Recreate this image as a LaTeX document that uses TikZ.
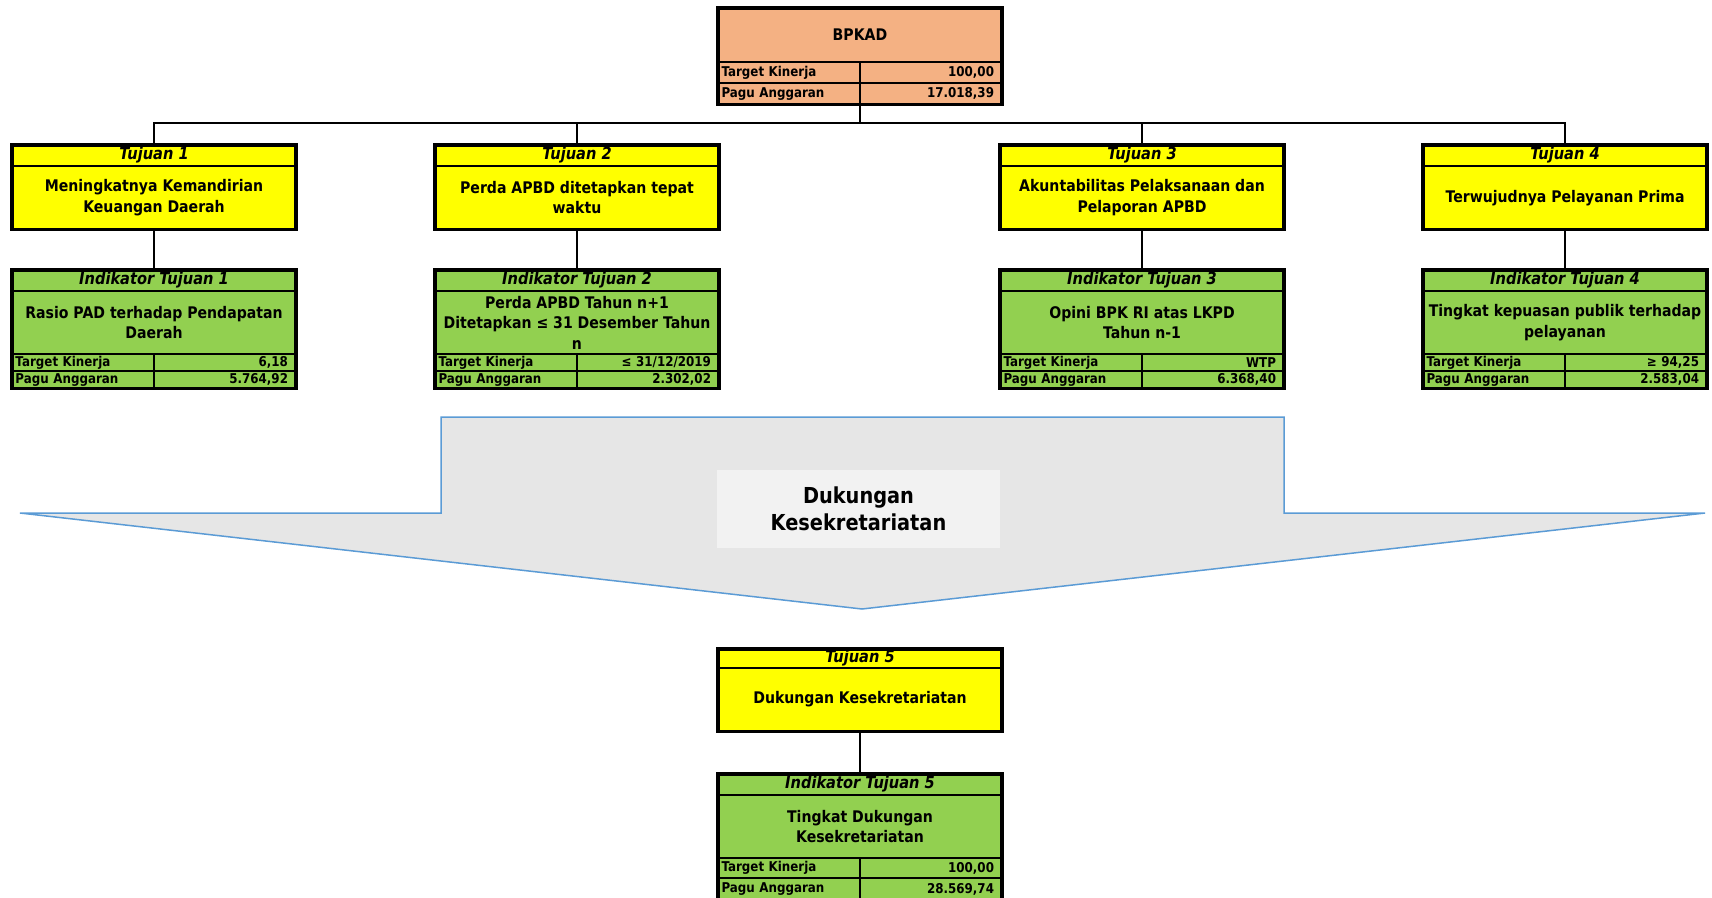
\documentclass[tikz,border=0pt]{standalone}
\usepackage{fontspec}
\setmainfont{DejaVu Sans}[FakeStretch=0.88]
\definecolor{peach}{HTML}{F4B183}
\definecolor{ylw}{HTML}{FFFF00}
\definecolor{grn}{HTML}{92D050}
\definecolor{arrfill}{HTML}{E6E6E6}
\definecolor{arrline}{HTML}{5B9BD5}
\definecolor{lblfill}{HTML}{F2F2F2}
\tikzset{
  cell/.style={draw, line width=2pt, inner sep=0pt, outer sep=0pt, minimum width=284pt, align=center},
  cellT/.style={cell, font=\fontsize{16.6}{18}\selectfont\bfseries\itshape},
  cellB/.style={cell, font=\fontsize{16}{20.5}\selectfont\bfseries},
  rowL/.style={draw, line width=2pt, outer sep=0pt, inner ysep=0pt, inner xsep=3.5pt, text width=135pt, align=left, font=\fontsize{13.5}{14}\selectfont\bfseries},
  rowR/.style={draw, line width=2pt, outer sep=0pt, inner ysep=0pt, inner xsep=8pt, text width=126pt, align=right, font=\fontsize{13.5}{14}\selectfont\bfseries},
  frame/.style={draw, line width=3.5pt},
  conn/.style={draw, line width=2.2pt},
  bigarrow/.style={draw=arrline, fill=arrfill, line width=1.5pt, line join=miter},
  lblbox/.style={fill=lblfill, minimum width=283pt, minimum height=78pt, inner sep=0pt, align=center, font=\fontsize{22}{27}\selectfont\bfseries}
}
% #1 prefix, #2 node above, #3 fill, #4 h1, #5 h2, #6 v1, #7 v2
\newcommand\datarows[7]{%
  \node[rowL, fill=#3, minimum height=#4, anchor=north west] (#1a) at (#2.south west) {Target Kinerja};
  \node[rowR, fill=#3, minimum height=#4, anchor=north east] (#1b) at (#2.south east) {#6};
  \node[rowL, fill=#3, minimum height=#5, anchor=north west] (#1c) at (#1a.south west) {Pagu Anggaran};
  \node[rowR, fill=#3, minimum height=#5, anchor=north east] (#1d) at (#1b.south east) {#7};
}
% #1 name, #2 cx, #3 top, #4 title h, #5 body h, #6 title, #7 body
\newcommand\tujuanbox[7]{%
  \node[cellT, fill=ylw, minimum height=#4, anchor=north] (#1t) at (#2,#3) {#6};
  \node[cellB, fill=ylw, minimum height=#5, anchor=north] (#1) at (#1t.south) {#7};
  \draw[frame] (#1t.north west) rectangle (#1.south east);
}
% #1 name, #2 cx, #3 top, #4 title, #5 body, #6 v1, #7 v2, #8 h1, #9 h2
\newcommand\indikbox[9]{%
  \node[cellT, fill=grn, minimum height=21.25pt, anchor=north] (#1t) at (#2,#3) {#4};
  \node[cellB, fill=grn, minimum height=63pt, anchor=north] (#1) at (#1t.south) {#5};
  \datarows{#1r}{#1}{grn}{#8}{#9}{#6}{#7}
  \draw[frame] (#1t.north west) rectangle (#1rd.south east);
}
\begin{document}
\begin{tikzpicture}[x=1pt,y=-1pt]
\useasboundingbox (0,0) rectangle (1712,897);

% big arrow
\draw[bigarrow] (441,417) -- (1284,417) -- (1284,513) -- (1705,513) -- (862,609) -- (20,513) -- (441,513) -- cycle;
\node[lblbox] (lbl) at (858.5,509) {Dukungan\\Kesekretariatan};

% BPKAD
\node[cellB, fill=peach, minimum height=54.25pt, anchor=north] (bpkad) at (860,7.75) {BPKAD};
\datarows{bp}{bpkad}{peach}{21pt}{21.25pt}{100,00}{17.018,39}
\draw[frame] (bpkad.north west) rectangle (bpd.south east);

% Tujuan
\tujuanbox{ta}{154}{144.75}{21.25pt}{63.5pt}{Tujuan 1}{Meningkatnya Kemandirian\\Keuangan Daerah}
\tujuanbox{tb}{577}{144.75}{21.25pt}{63.5pt}{Tujuan 2}{Perda APBD ditetapkan tepat\\waktu}
\tujuanbox{tc}{1142}{144.75}{21.25pt}{63.5pt}{Tujuan 3}{Akuntabilitas Pelaksanaan dan\\Pelaporan APBD}
\tujuanbox{td}{1565}{144.75}{21.25pt}{63.5pt}{Tujuan 4}{Terwujudnya Pelayanan Prima}

% Indikator
\indikbox{ia}{154}{269.75}{Indikator Tujuan 1}{Rasio PAD terhadap Pendapatan\\Daerah}{6,18}{5.764,92}{17pt}{17.25pt}
\indikbox{ib}{577}{269.75}{Indikator Tujuan 2}{Perda APBD Tahun n+1\\Ditetapkan ≤ 31 Desember Tahun\\n}{≤ 31/12/2019}{2.302,02}{17pt}{17.25pt}
\indikbox{ic}{1142}{269.75}{Indikator Tujuan 3}{Opini BPK RI atas LKPD\\Tahun n-1}{WTP}{6.368,40}{17pt}{17.25pt}
\indikbox{id}{1565}{269.75}{Indikator Tujuan 4}{Tingkat kepuasan publik terhadap\\pelayanan}{≥ 94,25}{2.583,04}{17pt}{17.25pt}

% Tujuan 5
\tujuanbox{te}{860}{648.75}{19.25pt}{63.25pt}{Tujuan 5}{Dukungan Kesekretariatan}
\indikbox{ie}{860}{773.75}{Indikator Tujuan 5}{Tingkat Dukungan\\Kesekretariatan}{100,00}{28.569,74}{20pt}{22pt}

% connectors
\coordinate (bus) at (860,123);
\draw[conn] (bpd.south west) -- (bus);
\draw[conn] (tat.north) |- (bus) -| (tdt.north);
\draw[conn] (tbt.north) -- (tbt.north |- bus);
\draw[conn] (tct.north) -- (tct.north |- bus);
\draw[conn] (ta.south) -- (iat.north);
\draw[conn] (tb.south) -- (ibt.north);
\draw[conn] (tc.south) -- (ict.north);
\draw[conn] (td.south) -- (idt.north);
\draw[conn] (te.south) -- (iet.north);
\end{tikzpicture}
\end{document}
